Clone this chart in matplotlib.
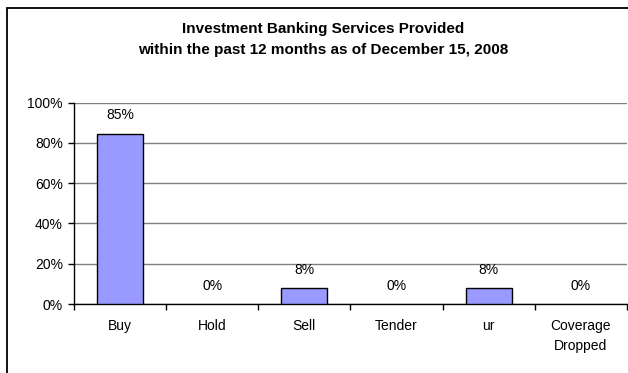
import matplotlib.pyplot as plt
from matplotlib.patches import Rectangle
from matplotlib.ticker import FixedLocator, PercentFormatter

plt.rcParams['font.family'] = ['Liberation Sans', 'DejaVu Sans']

categories = ['Buy', 'Hold', 'Sell', 'Tender', 'ur', 'Coverage\nDropped']
shares = [84.6, 0.0, 7.7, 0.0, 7.7, 0.0]
share_labels = ['85%', '0%', '8%', '0%', '8%', '0%']

title_1 = 'Investment Banking Services Provided'
title_2 = 'within the past 12 months as of December 15, 2008'

fig = plt.figure(figsize=(6.28, 3.73), dpi=100)
W, H = 628.0, 373.0

# outer chart border (right and bottom edges cut off in the original)
fig.patches.append(Rectangle((6.5 / W, -0.1), 1.2, 1 - 7.5 / H + 0.1,
                             transform=fig.transFigure, fill=False,
                             edgecolor='black', linewidth=1.3))

ax = fig.add_axes([74 / W, 1 - 304 / H, (627 - 74) / W, (304 - 102.5) / H])

x = list(range(len(categories)))
# zero bars have no visible outline in the original
edges = ['black' if v > 0 else 'none' for v in shares]
ax.bar(x, shares, width=0.5, color='#9999FF', edgecolor=edges, linewidth=1, zorder=3)

for xi, v, lab in zip(x, shares, share_labels):
    ax.annotate(lab, (xi, v), xytext=(0, 13.3), textcoords='offset points',
                ha='center', va='center', fontsize=10)

ax.set_xlim(-0.5, len(categories) - 0.5)
ax.set_ylim(0, 100)
ax.set_yticks([0, 20, 40, 60, 80, 100])
ax.yaxis.set_major_formatter(PercentFormatter(decimals=0))
ax.grid(axis='y', color='#808080', linewidth=1, zorder=0)

ax.set_xticks(x)
ax.set_xticklabels(categories, linespacing=1.5)
ax.xaxis.set_minor_locator(FixedLocator([i - 0.5 for i in range(len(categories) + 1)]))
ax.tick_params(axis='x', which='major', length=0, pad=11, labelsize=10)
ax.tick_params(axis='x', which='minor', length=4, width=1, direction='out')
ax.tick_params(axis='y', length=4, width=1, pad=4, labelsize=10)

for s in ['top', 'right']:
    ax.spines[s].set_visible(False)
ax.spines['left'].set_linewidth(1)
ax.spines['bottom'].set_linewidth(1)

fig.text(323.5 / W, 1 - 29 / H, title_1, ha='center', va='center',
         fontsize=11, fontweight='bold')
fig.text(323.5 / W, 1 - 50 / H, title_2, ha='center', va='center',
         fontsize=11, fontweight='bold')

fig.savefig('out.png', dpi=100)
